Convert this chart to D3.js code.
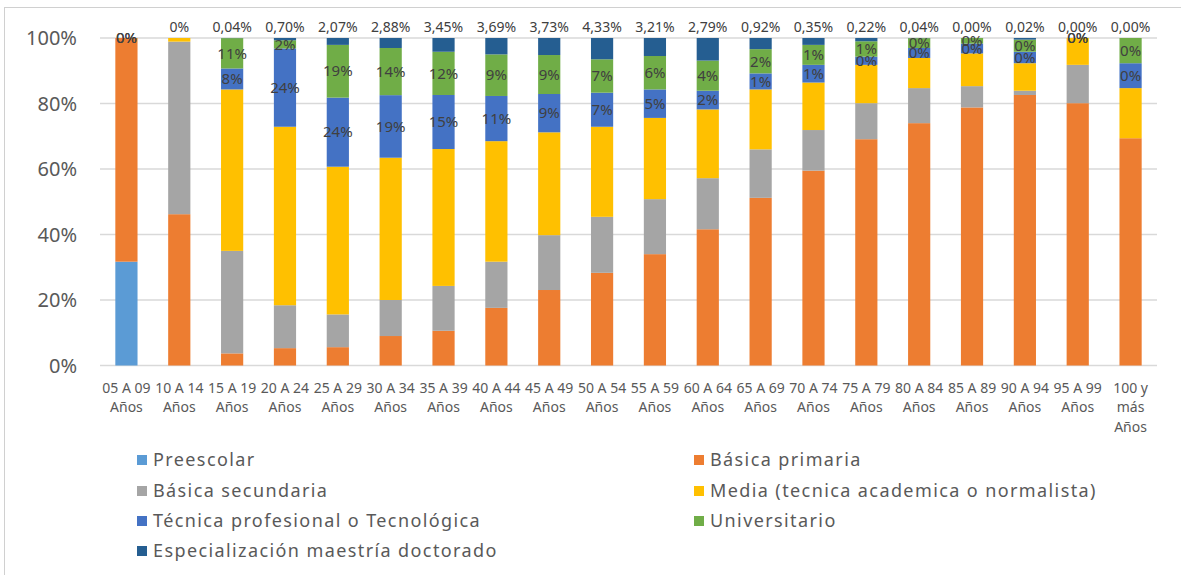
<!DOCTYPE html>
<html>
<head>
<meta charset="utf-8">
<script src="https://cdn.jsdelivr.net/npm/d3@7"></script>
<style>
  body { margin: 0; background: #fff; }
  text { font-family: "Noto Sans", "Open Sans", sans-serif; }
</style>
</head>
<body>
<div id="chart"></div>
<script>
// ---------------- data ----------------
const categories = ["05 A 09 Años", "10 A 14 Años", "15 A 19 Años", "20 A 24 Años", "25 A 29 Años",
  "30 A 34 Años", "35 A 39 Años", "40 A 44 Años", "45 A 49 Años", "50 A 54 Años", "55 A 59 Años",
  "60 A 64 Años", "65 A 69 Años", "70 A 74 Años", "75 A 79 Años", "80 A 84 Años", "85 A 89 Años",
  "90 A 94 Años", "95 A 99 Años", "100 y más Años"];

const seriesNames = ["Preescolar", "Básica primaria", "Básica secundaria",
  "Media (tecnica academica o normalista)", "Técnica profesional o Tecnológica",
  "Universitario", "Especialización maestría doctorado"];
const seriesColors = ["#5B9BD5", "#ED7D31", "#A5A5A5", "#FFC000", "#4472C4", "#70AD47", "#255E91"];

// shares per age group (%)
const preescolar     = [31.7, 0, 0, 0, 0, 0, 0, 0, 0, 0, 0, 0, 0, 0, 0, 0, 0, 0, 0, 0];
const primaria       = [68.3, 46.2, 3.7, 5.3, 5.6, 9.0, 10.6, 17.6, 23.05, 28.3, 34.0, 41.6, 51.2, 59.5, 69.1, 74.0, 78.8, 82.6, 80.1, 69.4];
const secundaria     = [0, 52.7, 31.3, 13.1, 10.0, 11.0, 13.7, 14.1, 16.75, 17.1, 16.8, 15.6, 14.8, 12.4, 11.0, 10.7, 6.5, 1.3, 11.7, 0];
const media          = [0, 1.1, 49.3, 54.5, 45.1, 43.45, 41.8, 36.8, 31.4, 27.5, 24.8, 21.0, 18.3, 14.5, 11.7, 9.2, 10.0, 8.4, 8.2, 15.3];
const tecnica        = [0, 0, 6.4, 23.9, 21.1, 19.1, 16.5, 13.8, 11.7, 10.4, 8.7, 5.7, 4.9, 5.4, 2.5, 3.05, 3.0, 3.5, 0, 7.6];
const universitario  = [0, 0, 9.26, 2.5, 16.1, 14.4, 13.2, 12.7, 11.9, 10.2, 10.2, 9.2, 7.4, 6.1, 4.7, 3.0, 1.7, 3.7, 0, 7.7];
const especializacion = [0, 0, 0.04, 0.7, 2.1, 3.05, 4.2, 5.0, 5.2, 6.5, 5.5, 6.9, 3.4, 2.1, 1.0, 0.05, 0, 0.5, 0, 0];

// data labels as printed on the chart
const tecnicaLabels = [0, null, 8, 24, 24, 19, 15, 11, 9, 7, 5, 2, 1, 1, 0, 0, 0, 0, 0, 0];
const univLabels    = [0, null, 11, 2, 19, 14, 12, 9, 9, 7, 6, 4, 2, 1, 1, 0, 0, 0, 0, 0];
const topLabels = ["", "0%", "0,04%", "0,70%", "2,07%", "2,88%", "3,45%", "3,69%", "3,73%", "4,33%",
  "3,21%", "2,79%", "0,92%", "0,35%", "0,22%", "0,04%", "0,00%", "0,02%", "0,00%", "0,00%"];

const yTicks = [0, 0.2, 0.4, 0.6, 0.8, 1];

// ---------------- layout ----------------
const width = 1181;
const height = 575;
const plot = { left: 100, right: 1157, top: 38, bottom: 365.5 };

const svg = d3.select("#chart").append("svg")
  .attr("width", width)
  .attr("height", height);

svg.append("rect")
  .attr("x", 4.5).attr("y", 7.5)
  .attr("width", width).attr("height", height)
  .attr("fill", "#fff")
  .attr("stroke", "#d0d0d0");

const series = [preescolar, primaria, secundaria, media, tecnica, universitario, especializacion];
const rows = categories.map((c, i) => {
  const r = { cat: c };
  series.forEach((s, k) => r[k] = s[i]);
  return r;
});

const stack = d3.stack()
  .keys(d3.range(series.length))
  .offset(d3.stackOffsetExpand);
const stacked = stack(rows);

const x = d3.scaleBand()
  .domain(categories)
  .range([plot.left, plot.right])
  .paddingInner(0.58)
  .paddingOuter(0.29);

const y = d3.scaleLinear()
  .domain([0, 1])
  .range([plot.bottom, plot.top]);

// grid lines
svg.append("g")
  .selectAll("line")
  .data(yTicks)
  .join("line")
  .attr("x1", plot.left)
  .attr("x2", plot.right)
  .attr("y1", d => y(d))
  .attr("y2", d => y(d))
  .attr("stroke", "#d9d9d9")
  .attr("stroke-width", 1.5);

// y axis labels
svg.append("g")
  .selectAll("text")
  .data(yTicks)
  .join("text")
  .attr("x", 77)
  .attr("y", d => y(d))
  .attr("dy", "0.35em")
  .attr("text-anchor", "end")
  .attr("font-size", 20)
  .attr("fill", "#595959")
  .text(d3.format(".0%"));

// bars
svg.append("g")
  .selectAll("g")
  .data(stacked)
  .join("g")
  .attr("fill", (d, k) => seriesColors[k])
  .selectAll("rect")
  .data(d => d)
  .join("rect")
  .attr("x", d => x(d.data.cat))
  .attr("width", x.bandwidth())
  .attr("y", d => y(d[1]))
  .attr("height", d => y(d[0]) - y(d[1]));

// labels inside the técnica and universitario segments
function segLabels(layer, labels) {
  svg.append("g")
    .selectAll("text")
    .data(layer.filter((d, i) => labels[i] !== null).map(d => ({ d, lab: labels[categories.indexOf(d.data.cat)] })))
    .join("text")
    .attr("x", o => x(o.d.data.cat) + x.bandwidth() / 2)
    .attr("y", o => y((o.d[0] + o.d[1]) / 2))
    .attr("dy", "0.35em")
    .attr("text-anchor", "middle")
    .attr("font-size", 15)
    .attr("fill", "#404040")
    .text(o => o.lab + "%");
}
segLabels(stacked[4], tecnicaLabels);
segLabels(stacked[5], univLabels);

// especialización labels above the bars
svg.append("g")
  .selectAll("text")
  .data(categories)
  .join("text")
  .attr("x", d => x(d) + x.bandwidth() / 2)
  .attr("y", 27)
  .attr("dy", "0.35em")
  .attr("text-anchor", "middle")
  .attr("font-size", 14)
  .attr("fill", "#404040")
  .text((d, i) => topLabels[i]);

// x axis category labels, wrapped to band width
const xLab = svg.append("g")
  .selectAll("text")
  .data(categories)
  .join("text")
  .attr("x", d => x(d) + x.bandwidth() / 2)
  .attr("y", 388)
  .attr("text-anchor", "middle")
  .attr("font-size", 14)
  .attr("fill", "#595959");

xLab.each(function (d) {
  const t = d3.select(this);
  const cx = x(d) + x.bandwidth() / 2;
  const words = d.split(" ");
  const lines = [];
  let line = [];
  const probe = t.append("tspan");
  words.forEach(w => {
    const tryLine = line.concat(w).join(" ");
    probe.text(tryLine);
    if (line.length && probe.node().getComputedTextLength() > x.step() - 1) {
      lines.push(line.join(" "));
      line = [w];
    } else {
      line.push(w);
    }
  });
  lines.push(line.join(" "));
  probe.remove();
  lines.forEach((l, j) => {
    t.append("tspan")
      .attr("x", cx)
      .attr("dy", j === 0 ? "0.35em" : 19.5)
      .text(l);
  });
});

// legend
const legendX = [137, 694];
const legendY = [460, 491, 521, 551];
const legend = svg.append("g")
  .selectAll("g")
  .data(seriesNames)
  .join("g")
  .attr("transform", (d, i) => `translate(${legendX[i % 2]},${legendY[Math.floor(i / 2)]})`);

legend.append("rect")
  .attr("x", 0)
  .attr("y", -5)
  .attr("width", 10)
  .attr("height", 10)
  .attr("fill", (d, i) => seriesColors[i]);

legend.append("text")
  .attr("x", 16)
  .attr("dy", "0.35em")
  .attr("font-size", 18)
  .attr("letter-spacing", 1.4)
  .attr("fill", "#595959")
  .text(d => d);
</script>
</body>
</html>
